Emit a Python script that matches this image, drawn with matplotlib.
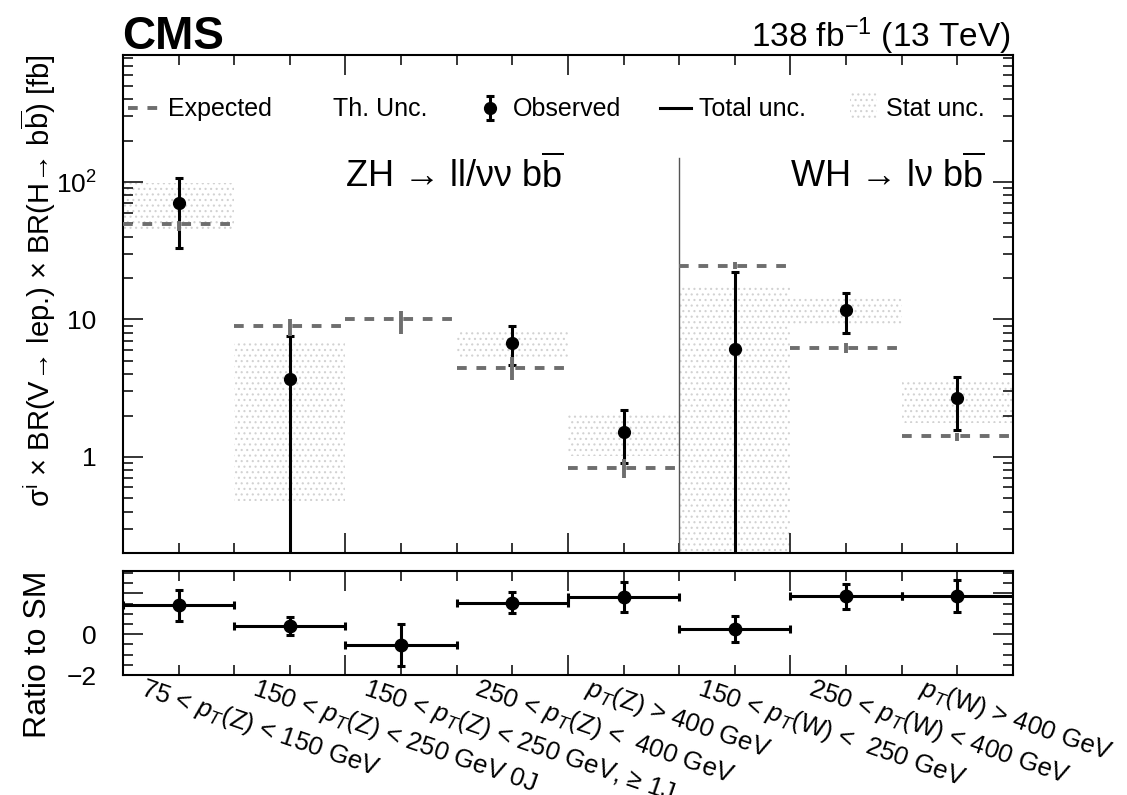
import numpy as np
import matplotlib
matplotlib.use("Agg")
import matplotlib.pyplot as plt
from matplotlib import transforms
from matplotlib.patches import Rectangle
from matplotlib.ticker import FixedLocator, FixedFormatter, LogLocator, NullFormatter

# -------------------------------
# Fonts
# -------------------------------
plt.rcParams["font.family"] = ["Liberation Sans", "DejaVu Sans"]
plt.rcParams["mathtext.fontset"] = "custom"
plt.rcParams["mathtext.rm"] = "Liberation Sans"
plt.rcParams["mathtext.it"] = "Liberation Sans:italic"
plt.rcParams["mathtext.bf"] = "Liberation Sans:bold"
plt.rcParams["hatch.linewidth"] = 0.8

# -------------------------------
# STXS bins (cross section in fb)
# -------------------------------
bin_labels = [
    r"75 < $p_{T}$(Z) < 150 GeV",
    r"150 < $p_{T}$(Z) < 250 GeV 0J",
    r"150 < $p_{T}$(Z) < 250 GeV, ≥ 1J",
    r"250 < $p_{T}$(Z) <  400 GeV",
    r"$p_{T}$(Z) > 400 GeV",
    r"150 < $p_{T}$(W) <  250 GeV",
    r"250 < $p_{T}$(W) < 400 GeV",
    r"$p_{T}$(W) > 400 GeV",
]

expected = np.array([49.5, 8.9, 10.0, 4.45, 0.836, 24.5, 6.22, 1.42])
theory_lo = np.array([44.3, 7.6, 7.85, 3.6, 0.70, 23.3, 5.75, 1.31])
theory_hi = np.array([52.2, 10.1, 11.6, 5.3, 0.96, 26.0, 6.8, 1.50])

observed = np.array([70.4, 3.70, -5.2, 6.77, 1.53, 6.09, 11.7, 2.68])
total_lo = np.array([32.9, -0.2, -15.8, 4.68, 0.91, -10.0, 7.95, 1.58])
total_hi = np.array([107.0, 7.6, 5.1, 9.0, 2.19, 22.3, 15.5, 3.83])

stat_lo = np.array([44.5, 0.48, np.nan, 5.24, 1.02, -5.0, 9.0, 1.78])
stat_hi = np.array([97.6, 7.0, np.nan, 8.18, 2.07, 17.1, 14.5, 3.58])

# ratio to the SM prediction
ratio = np.array([1.43, 0.42, -0.52, 1.52, 1.82, 0.24, 1.87, 1.87])
ratio_lo = np.array([0.63, -0.02, -1.58, 1.04, 1.07, -0.40, 1.25, 1.11])
ratio_hi = np.array([2.17, 0.86, 0.51, 2.05, 2.58, 0.90, 2.46, 2.64])

edges = np.arange(len(expected) + 1)
centers = edges[:-1] + 0.5

GRAY = "#6e6e6e"
HATCH = "#d2d2d2"
FLOOR = 1e-3   # log axis floor for bars that go negative

# -------------------------------
# Figure layout
# -------------------------------
fig = plt.figure(figsize=(11.27, 7.95), dpi=100)
ax = fig.add_axes([0.1091, 0.3044, 0.7897, 0.6264])
axr = fig.add_axes([0.1091, 0.1509, 0.7897, 0.1308])

# -------------------------------
# Top panel
# -------------------------------
# stat unc. boxes
m = ~np.isnan(stat_lo)
lo = np.clip(stat_lo[m], FLOOR, None)
ax.bar(centers[m], stat_hi[m] - lo, bottom=lo, width=1.0,
       color="none", edgecolor=HATCH, hatch="...", linewidth=0, zorder=1)

# observed with total unc.
m = observed > 0
yo = observed[m]
ax.errorbar(centers[m], yo,
            yerr=[yo - np.clip(total_lo[m], FLOOR, None), total_hi[m] - yo],
            fmt="o", color="black", ms=8.5, lw=2.2, capsize=3, capthick=2.2,
            zorder=3)

# expected with theory unc.
ax.hlines(expected, edges[:-1], edges[1:], color=GRAY, lw=2.8,
          linestyles=[(0, (2.5, 2.5))], zorder=4)
ax.vlines(centers, theory_lo, theory_hi, color=GRAY, lw=2.8, zorder=4)

ax.axvline(5, ymin=0, ymax=0.7926, color="#555555", lw=1.0, zorder=2)

ax.set_yscale("log")
ax.set_ylim(0.2, 840)
ax.yaxis.set_major_locator(FixedLocator([1, 10, 100]))
ax.yaxis.set_major_formatter(FixedFormatter(["1", "10", r"$10^{2}$"]))
ax.yaxis.set_minor_locator(LogLocator(base=10, subs=np.arange(2, 10)))
ax.yaxis.set_minor_formatter(NullFormatter())

ax.set_ylabel(r"σ$^{\mathrm{i}}$ × BR(V→ lep.) × BR(H→ $\mathrm{b}\overline{\mathrm{b}}$) [fb]",
              fontsize=21, loc="top")
ax.yaxis.set_label_coords(-0.073, 1.0)

# channel labels
lab_tr = transforms.blended_transform_factory(ax.transData, ax.transAxes)
ax.text(2.0, 0.733, r"ZH → ll/νν $\mathrm{b}\overline{\mathrm{b}}$", fontsize=26,
        transform=lab_tr, ha="left", va="baseline")
ax.text(6.0, 0.733, r"WH → lν $\mathrm{b}\overline{\mathrm{b}}$", fontsize=26,
        transform=lab_tr, ha="left", va="baseline")

# legend row
leg_y, txt_y = 0.8936, 0.8775
tA = ax.transAxes
ax.plot([0.0055, 0.039], [leg_y, leg_y], transform=tA, color=GRAY, lw=2.8,
        ls=(0, (2.5, 2.5)), clip_on=False)
ax.text(0.0508, txt_y, "Expected", transform=tA, fontsize=18, va="baseline")
ax.text(0.2365, txt_y, "Th. Unc.", transform=tA, fontsize=18, va="baseline")
ax.plot([0.4122, 0.4122], [leg_y - 0.024, leg_y + 0.024], transform=tA,
        color="black", lw=2.2)
ax.plot([0.4122, 0.4122], [leg_y - 0.024, leg_y + 0.024], transform=tA,
        ls="none", marker="_", ms=6, mew=2.2, color="black")
ax.plot([0.4122], [leg_y], transform=tA, marker="o", ms=8.5, color="black")
ax.text(0.4378, txt_y, "Observed", transform=tA, fontsize=18, va="baseline")
ax.plot([0.6039, 0.6380], [leg_y, leg_y], transform=tA, color="black", lw=2.2)
ax.text(0.6474, txt_y, "Total unc.", transform=tA, fontsize=18, va="baseline")
ax.add_patch(Rectangle((0.8173, 0.8675), 0.0302, 0.0606, transform=tA,
                       facecolor="none", edgecolor=HATCH, hatch="...", lw=0))
ax.text(0.8570, txt_y, "Stat unc.", transform=tA, fontsize=18, va="baseline")

# -------------------------------
# Ratio panel
# -------------------------------
axr.errorbar(centers, ratio, xerr=0.5,
             yerr=[ratio - ratio_lo, ratio_hi - ratio],
             fmt="o", color="black", ms=9, lw=2.2, capsize=3, capthick=2.2)
axr.set_ylim(-2, 3.1)
axr.set_yticks([-2, 0, 2])
axr.set_yticklabels(["\u22122", "0", ""])
axr.set_yticks(np.arange(-2, 3.01, 0.5), minor=True)
axr.set_ylabel("Ratio to SM", fontsize=23, loc="top")
axr.yaxis.set_label_coords(-0.079, 1.0)

# rotated bin labels below the ratio panel
offset = transforms.ScaledTranslation(-32 / 100, 1 / 100, fig.dpi_scale_trans)
bin_tr = transforms.blended_transform_factory(axr.transData, axr.transAxes) + offset
for c, lab in zip(centers, bin_labels):
    axr.text(c, 0, lab, transform=bin_tr, fontsize=18.6, rotation=-19,
             rotation_mode="anchor", ha="left", va="top")

# -------------------------------
# Shared axis styling
# -------------------------------
for a in (ax, axr):
    a.set_xlim(0, 8)
    a.set_xticks(np.arange(0, 9, 2))
    a.set_xticks(np.arange(0, 8.01, 0.5), minor=True)
    a.tick_params(which="both", direction="in", top=True, right=True,
                  width=1.1, labelbottom=False, labelsize=19, pad=19)
    a.tick_params(which="major", length=14.4)
    a.tick_params(which="minor", length=7.2)
    for s in a.spines.values():
        s.set_linewidth(1.5)

# -------------------------------
# Header
# -------------------------------
fig.text(122.6 / 1127, 1 - 48.6 / 795, "CMS", fontsize=33, fontweight="bold",
         ha="left", va="baseline")
fig.text(1011 / 1127, 1 - 47 / 795, r"138 fb$^{-1}$ (13 TeV)", fontsize=24,
         ha="right", va="baseline")

fig.savefig("out.png", dpi=100)
